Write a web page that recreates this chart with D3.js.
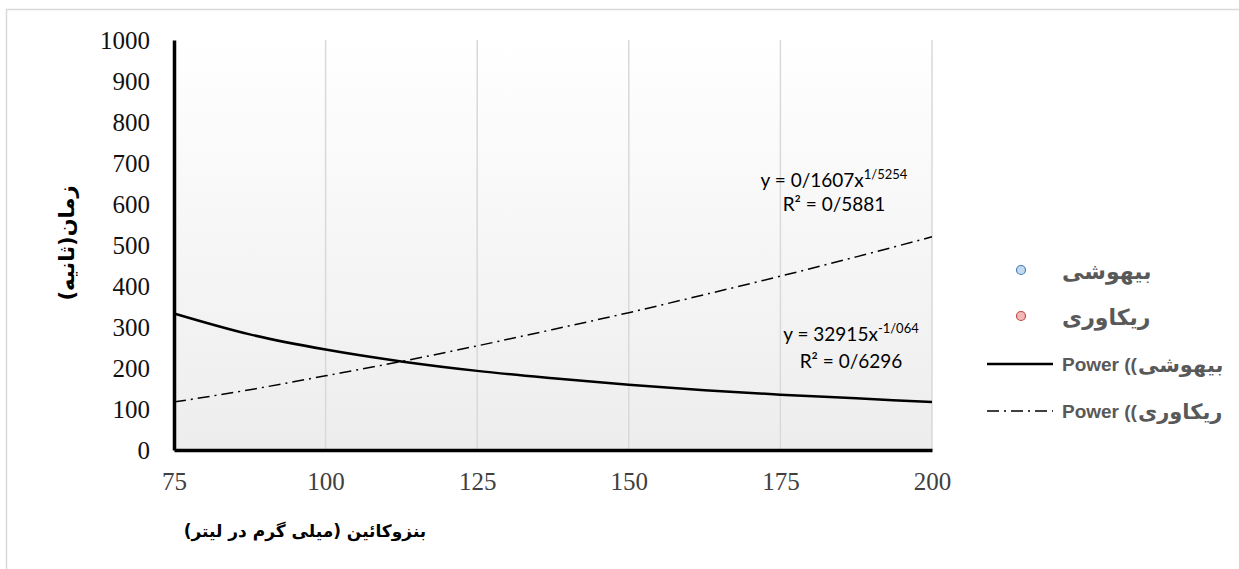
<!DOCTYPE html>
<html>
<head>
<meta charset="utf-8">
<script src="https://cdn.jsdelivr.net/npm/d3@7/dist/d3.min.js"></script>
<style>
  body { margin: 0; background: #fff; }
  svg { display: block; }
</style>
</head>
<body>
<div id="chart"></div>
<script>
// values (trendline samples)
const xSamples = [75, 87.5, 100, 112.5, 125, 137.5, 150, 162.5, 175, 187.5, 200];
const anesthesia = [333, 282, 245, 216, 193, 175, 159, 146, 135, 126, 117];
const recovery = [117, 147, 181, 216, 254, 294, 335, 379, 424, 471, 520];
const xTicks = [75, 100, 125, 150, 175, 200];
const yTicks = [0, 100, 200, 300, 400, 500, 600, 700, 800, 900, 1000];

const eqAnesthesia = { base: "y = 32915x", exp: "-1/064", r2: "R² = 0/6296" };
const eqRecovery = { base: "y = 0/1607x", exp: "1/5254", r2: "R² = 0/5881" };

const seriesNames = ["بیهوشی", "ریکاوری"];
const xTitle = "بنزوکائین (میلی گرم در لیتر)";
const yTitle = "زمان(ثانیه)";

const W = 1239, H = 569;
const plot = { left: 174, right: 932, top: 40, bottom: 450 };

const svg = d3.select("#chart").append("svg")
    .attr("width", W)
    .attr("height", H);

// outer chart border
svg.append("rect")
    .attr("x", 6.5).attr("y", 9.5)
    .attr("width", W).attr("height", H)
    .attr("fill", "#fff")
    .attr("stroke", "#d9d9d9")
    .attr("stroke-width", 1.5);

const defs = svg.append("defs");
const grad = defs.append("linearGradient")
    .attr("id", "plotFill")
    .attr("x1", 0).attr("y1", 0).attr("x2", 0).attr("y2", 1);
grad.append("stop").attr("offset", "0%").attr("stop-color", "#ffffff");
grad.append("stop").attr("offset", "100%").attr("stop-color", "#ededed");

const x = d3.scaleLinear().domain([75, 200]).range([plot.left, plot.right]);
const y = d3.scaleLinear().domain([0, 1000]).range([plot.bottom, plot.top]);

svg.append("rect")
    .attr("x", plot.left).attr("y", plot.top)
    .attr("width", plot.right - plot.left)
    .attr("height", plot.bottom - plot.top)
    .attr("fill", "url(#plotFill)");

// vertical gridlines
svg.append("g")
    .selectAll("line")
    .data(xTicks.slice(1))
    .join("line")
    .attr("x1", d => x(d)).attr("x2", d => x(d))
    .attr("y1", plot.top).attr("y2", plot.bottom)
    .attr("stroke", "#d9d9d9")
    .attr("stroke-width", 1.5);

// axes
const tickFont = "'Liberation Serif', 'Times New Roman', serif";
const xAxis = svg.append("g")
    .attr("transform", `translate(0,${plot.bottom})`)
    .call(d3.axisBottom(x).tickValues(xTicks).tickSize(0).tickPadding(22).tickFormat(d3.format("d")));
xAxis.select(".domain").attr("stroke", "#000").attr("stroke-width", 3.5);
xAxis.selectAll("text")
    .attr("fill", "#404040")
    .style("font-family", tickFont)
    .style("font-size", "25px");

const yAxis = svg.append("g")
    .attr("transform", `translate(${plot.left},0)`)
    .call(d3.axisLeft(y).tickValues(yTicks).tickSize(0).tickPadding(24).tickFormat(d3.format("d")));
yAxis.select(".domain").attr("stroke", "#000").attr("stroke-width", 3.5);
yAxis.selectAll("text")
    .attr("fill", "#111")
    .style("font-family", tickFont)
    .style("font-size", "25px");

// trendlines
const pts = vals => xSamples.map((v, i) => [v, vals[i]]);
const line = d3.line()
    .x(d => x(d[0]))
    .y(d => y(d[1]))
    .curve(d3.curveMonotoneX);

svg.append("path")
    .datum(pts(recovery))
    .attr("fill", "none")
    .attr("stroke", "#000")
    .attr("stroke-width", 1.5)
    .attr("stroke-dasharray", "12,5,2,5")
    .attr("d", line);

svg.append("path")
    .datum(pts(anesthesia))
    .attr("fill", "none")
    .attr("stroke", "#000")
    .attr("stroke-width", 2.5)
    .attr("d", line);

// trendline equations
const eqFont = "Lato, 'Open Sans', sans-serif";
function equation(eq, cx, y1, y2) {
    const t = svg.append("text")
        .attr("x", cx).attr("y", y1)
        .attr("text-anchor", "middle")
        .attr("fill", "#000")
        .style("font-family", eqFont)
        .style("font-size", "19px");
    t.append("tspan").text(eq.base);
    t.append("tspan")
        .attr("dy", -8)
        .style("font-size", "13px")
        .text(eq.exp);
    svg.append("text")
        .attr("x", cx).attr("y", y2)
        .attr("text-anchor", "middle")
        .attr("fill", "#000")
        .style("font-family", eqFont)
        .style("font-size", "19px")
        .text(eq.r2);
}
equation(eqRecovery, 834, 187, 211);
equation(eqAnesthesia, 851, 341, 368);

// legend
const legFont = "'Liberation Sans', Arial, sans-serif";
const arFont = "'DejaVu Sans', sans-serif";
const markerFill = ["#c5d9f1", "#f4b8b8"];
const markerStroke = ["#4a7ebb", "#be4b48"];
const legend = svg.append("g");

[0, 1].forEach(i => {
    const cy = 270 + i * 46;
    legend.append("circle")
        .attr("cx", 1021).attr("cy", cy).attr("r", 4.5)
        .attr("fill", markerFill[i])
        .attr("stroke", markerStroke[i])
        .attr("stroke-width", 1.2);
    legend.append("text")
        .attr("x", 1062).attr("y", cy + 9)
        .attr("fill", "#595959")
        .style("font-family", arFont)
        .style("font-weight", "bold")
        .style("font-size", "22px")
        .text(seriesNames[i]);
});

[0, 1].forEach(i => {
    const cy = 364 + i * 47;
    legend.append("line")
        .attr("x1", 987).attr("x2", 1053)
        .attr("y1", cy).attr("y2", cy)
        .attr("stroke", "#000")
        .attr("stroke-width", i === 0 ? 2.5 : 1.5)
        .attr("stroke-dasharray", i === 0 ? null : "12,5,2,5");
    const p = legend.append("text")
        .attr("x", 1062).attr("y", cy + 7)
        .attr("fill", "#595959")
        .attr("font-family", legFont)
        .attr("font-weight", "bold")
        .attr("font-size", 19)
        .text("Power ((");
    const w = p.node().getComputedTextLength();
    legend.append("text")
        .attr("x", 1062 + w + 1).attr("y", cy + 8)
        .attr("fill", "#595959")
        .attr("font-family", arFont)
        .attr("font-weight", "bold")
        .attr("font-size", 21)
        .text(seriesNames[i]);
});

// axis titles
svg.append("text")
    .attr("x", 305).attr("y", 537)
    .attr("text-anchor", "middle")
    .attr("direction", "rtl")
    .attr("fill", "#000")
    .style("font-family", arFont)
    .style("font-weight", "bold")
    .style("font-size", "17px")
    .text(xTitle);

svg.append("text")
    .attr("transform", "translate(74,243) rotate(-90)")
    .attr("text-anchor", "middle")
    .attr("direction", "rtl")
    .attr("fill", "#000")
    .style("font-family", arFont)
    .style("font-weight", "bold")
    .style("font-size", "21px")
    .text(yTitle);
</script>
</body>
</html>
